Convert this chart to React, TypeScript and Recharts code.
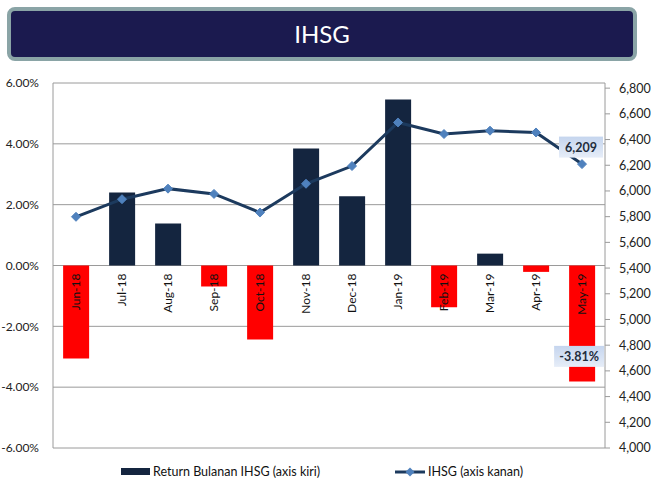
import React from "react"
import {
  ComposedChart,
  Bar,
  Line,
  Cell,
  XAxis,
  YAxis,
  CartesianGrid,
  Legend,
  LabelList,
} from "recharts"

const months = ["Jun-18", "Jul-18", "Aug-18", "Sep-18", "Oct-18", "Nov-18", "Dec-18", "Jan-19", "Feb-19", "Mar-19", "Apr-19", "May-19"]
// monthly return (left axis), as fraction
const returns = [-0.0306, 0.024, 0.0138, -0.0069, -0.0243, 0.0385, 0.0228, 0.0546, -0.0137, 0.0039, -0.0021, -0.0381]
// IHSG close (right axis)
const closes = [5799, 5936, 6018, 5977, 5832, 6056, 6194, 6533, 6443, 6469, 6455, 6209]

const leftTicks = [-0.06, -0.04, -0.02, 0, 0.02, 0.04, 0.06]
const rightTicks = [4000, 4200, 4400, 4600, 4800, 5000, 5200, 5400, 5600, 5800, 6000, 6200, 6400, 6600, 6800]

const data = months.map((m, i) => ({ month: m, ret: returns[i], ihsg: closes[i] }))

const FONT = "Lato, 'Open Sans', sans-serif"
const W = 655
const H = 481
const PLOT_TOP = 83
const PLOT_BOTTOM = 448
const ZERO_Y = (PLOT_TOP + PLOT_BOTTOM) / 2

const NAVY = "#14253f"
const LINE = "#1c3a5e"
const MARKER = "#4f81bd"

function MonthTick(props: any) {
  const { x, payload } = props
  return (
    <text
      x={x + 4}
      y={ZERO_Y + 8}
      transform={`rotate(-90 ${x + 4} ${ZERO_Y + 8})`}
      textAnchor="end"
      fontSize={12}
      fontFamily={FONT}
      fill="#111"
    >
      {payload.value}
    </text>
  )
}

function Diamond(props: any) {
  const { cx, cy } = props
  if (cx == null || cy == null) return null
  const r = 4.5
  return (
    <polygon
      points={`${cx},${cy - r} ${cx + r},${cy} ${cx},${cy + r} ${cx - r},${cy}`}
      fill={MARKER}
      stroke={MARKER}
    />
  )
}

function CalloutBox({ cx, cy, text, w }: { cx: number; cy: number; text: string; w: number }) {
  const h = 21
  return (
    <g>
      <defs>
        <linearGradient id={"cg" + text.length} x1="0" y1="0" x2="0" y2="1">
          <stop offset="0%" stopColor="#c5d5ee" />
          <stop offset="100%" stopColor="#e6edf8" />
        </linearGradient>
      </defs>
      <rect x={cx - w / 2} y={cy - h / 2} width={w} height={h} fill={"url(#cg" + text.length + ")"} />
      <text x={cx} y={cy + 4.5} textAnchor="middle" fontSize={12.5} fontWeight="bold" fontFamily={FONT} fill="#1f2d3d">
        {text}
      </text>
    </g>
  )
}

function LastPointLabel(props: any) {
  const { x, y, index, value } = props
  if (index !== months.length - 1) return null
  return <CalloutBox cx={x - 1} cy={y - 17} text={value.toLocaleString("en-US")} w={44} />
}

function LastBarLabel(props: any) {
  const { x, y, width, height, index, value } = props
  if (index !== months.length - 1) return null
  const bottom = Math.max(y, y + height)
  return <CalloutBox cx={x + width / 2 - 3} cy={bottom - 25} text={(value * 100).toFixed(2) + "%"} w={50} />
}

function LegendContent() {
  return (
    <div style={{ position: "relative", height: 20, fontFamily: FONT, fontSize: 12.5, color: "#111" }}>
      <div style={{ position: "absolute", left: 121, top: 4, width: 29, height: 7, background: NAVY }} />
      <span style={{ position: "absolute", left: 153, top: 0 }}>Return Bulanan IHSG (axis kiri)</span>
      <svg style={{ position: "absolute", left: 395, top: 2 }} width={30} height={12}>
        <line x1={0} y1={6} x2={30} y2={6} stroke={LINE} strokeWidth={3} />
        <polygon points="15,1.5 19.5,6 15,10.5 10.5,6" fill={MARKER} />
      </svg>
      <span style={{ position: "absolute", left: 428, top: 0 }}>IHSG (axis kanan)</span>
    </div>
  )
}

export default function App() {
  return (
    <div style={{ position: "absolute", left: 0, top: 0, width: W, height: H, background: "#fff" }}>
      <div
        style={{
          position: "absolute",
          left: 7,
          top: 7,
          width: 622,
          height: 46,
          background: "#1b1a4f",
          border: "4px solid #8aa4a6",
          borderRadius: 8,
          color: "#fff",
          fontFamily: FONT,
          fontSize: 24,
          textAlign: "center",
          lineHeight: "46px",
        }}
      >
        IHSG
      </div>
      <ComposedChart
        width={W}
        height={H}
        data={data}
        margin={{ top: PLOT_TOP, right: 0, bottom: H - PLOT_BOTTOM - 1, left: 0 }}
        barCategoryGap="22%"
      >
        <CartesianGrid yAxisId="left" vertical={false} stroke="#9a9a9a" strokeWidth={1} />
        <XAxis dataKey="month" axisLine={false} tickLine={false} height={1} tick={<MonthTick />} interval={0} />
        <YAxis
          yAxisId="left"
          width={53}
          domain={[-0.06, 0.06]}
          ticks={leftTicks}
          tickFormatter={(v) => (v * 100).toFixed(2) + "%"}
          axisLine={{ stroke: "#9a9a9a" }}
          tickLine={false}
          tick={{ fontSize: 12, fontFamily: FONT, fill: "#222" }}
          tickMargin={8}
          allowDataOverflow
        />
        <YAxis
          yAxisId="right"
          orientation="right"
          width={50}
          domain={[4000, 6840]}
          ticks={rightTicks}
          tickFormatter={(v) => v.toLocaleString("en-US")}
          axisLine={{ stroke: "#9a9a9a" }}
          tickLine={{ stroke: "#9a9a9a" }}
          tickSize={5}
          tick={{ fontSize: 12.5, fontFamily: FONT, fill: "#222", textAnchor: "start" }}
          tickMargin={9}
          allowDataOverflow
        />
        <Bar yAxisId="left" dataKey="ret" name="Return Bulanan IHSG (axis kiri)" isAnimationActive={false}>
          {data.map((d, i) => (
            <Cell key={i} fill={d.ret >= 0 ? NAVY : "#ff0000"} />
          ))}
          <LabelList dataKey="ret" content={<LastBarLabel />} />
        </Bar>
        <Line
          yAxisId="right"
          dataKey="ihsg"
          name="IHSG (axis kanan)"
          stroke={LINE}
          strokeWidth={3}
          dot={<Diamond />}
          activeDot={false}
          isAnimationActive={false}
        >
          <LabelList dataKey="ihsg" content={<LastPointLabel />} />
        </Line>
        <Legend
          layout="horizontal"
          verticalAlign="middle"
          content={<LegendContent />}
          wrapperStyle={{ top: 464, left: 0, width: W }}
        />
      </ComposedChart>
    </div>
  )
}
